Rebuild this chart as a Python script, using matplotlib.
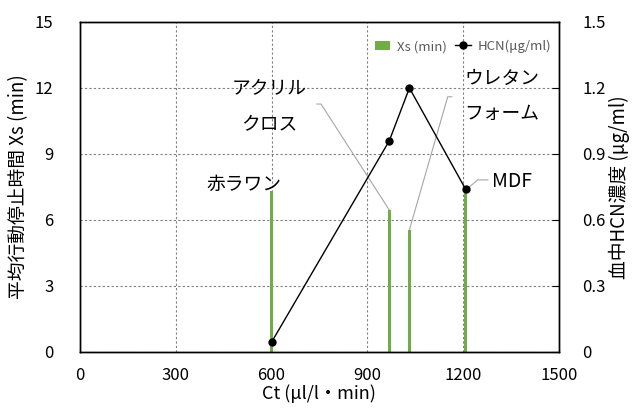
import matplotlib
matplotlib.use("Agg")
import matplotlib.pyplot as plt

plt.rcParams['font.family'] = ['Noto Sans CJK JP', 'DejaVu Sans']

# data
ct = [600, 969, 1032, 1208]
xs_min = [7.3, 6.45, 5.55, 7.4]
hcn = [0.044, 0.96, 1.2, 0.74]
materials = ["赤ラワン", "アクリル\nクロス", "ウレタン\nフォーム", "MDF"]

x_ticks = [0, 300, 600, 900, 1200, 1500]
left_ticks = [0, 3, 6, 9, 12, 15]
right_ticks = [0, 0.3, 0.6, 0.9, 1.2, 1.5]
right_labels = ["0", "0.3", "0.6", "0.9", "1.2", "1.5"]

green = "#70AD47"

fig = plt.figure(figsize=(6.35, 4.15), dpi=100)
ax = fig.add_axes([0.126, 0.152, 0.754, 0.795])
ax2 = ax.twinx()

bars = ax.bar(ct, xs_min, width=8, color=green, label="Xs (min)", zorder=2)
line, = ax2.plot(ct, hcn, color="black", lw=1, marker="o", ms=5,
                 label="HCN(μg/ml)", zorder=3)

ax.set_xlim(0, 1500)
ax.set_ylim(0, 15)
ax2.set_ylim(0, 1.5)
ax.set_xticks(x_ticks)
ax.set_yticks(left_ticks)
ax2.set_yticks(right_ticks)
ax2.set_yticklabels(right_labels)

ax.grid(True, color="#7f7f7f", ls=(0, (2, 2)), lw=0.8)
ax.set_axisbelow(True)

ax.tick_params(axis="x", length=0, labelsize=12, pad=11)
ax.tick_params(axis="y", length=0, labelsize=12, pad=19)
ax2.tick_params(axis="y", direction="in", length=5, labelsize=12, pad=17)
for a in (ax, ax2):
    for s in a.spines.values():
        s.set_color("black")
        s.set_linewidth(1)

ax.set_xlabel("Ct (μl/l・min)", fontsize=13, labelpad=0)
ax.set_ylabel("平均行動停止時間 Xs (min)", fontsize=13.5, labelpad=4)
ax2.set_ylabel("血中HCN濃度 (μg/ml)", fontsize=13.5, labelpad=2)

# labels with leader lines
lead = dict(color="#a6a6a6", lw=0.8)
jp = dict(ha="center", va="center", fontsize=13.5)
ax.text(513, 7.6, materials[0], **jp)
ax.text(592, 11.2, materials[1], linespacing=1.9, **jp)
ax.plot([742, 755, ct[1]], [11.27, 11.27, xs_min[1]], **lead, zorder=1)
ax.text(1322, 11.65, materials[2], linespacing=1.9, **jp)
ax.plot([1165, 1152, ct[2]], [11.6, 11.6, xs_min[2]], **lead, zorder=1)
ax.text(1353, 7.75, materials[3], ha="center", va="center", fontsize=14)
ax.plot([1278, 1246, ct[3]], [7.82, 7.82, 7.36], **lead, zorder=1)

leg = ax2.legend([bars, line], ["Xs (min)", "HCN(μg/ml)"], loc="upper right",
                 ncol=2, frameon=False, fontsize=9.5, handlelength=1.2,
                 columnspacing=0.6, handletextpad=0.5, borderaxespad=0.2,
                 bbox_to_anchor=(1.0, 0.97))
for t in leg.get_texts():
    t.set_color("#595959")

fig.savefig("out.png", dpi=100)
